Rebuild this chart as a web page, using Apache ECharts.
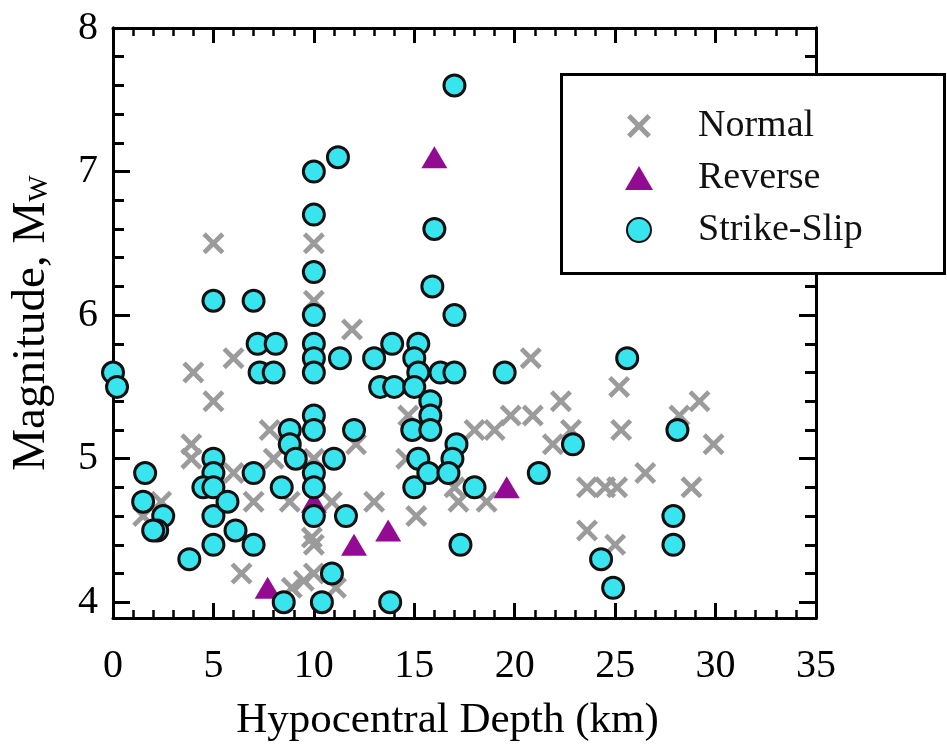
<!DOCTYPE html>
<html>
<head>
<meta charset="utf-8">
<script src="https://cdn.jsdelivr.net/npm/echarts@6/dist/echarts.min.js"></script>
<style>html,body{margin:0;padding:0;background:#fff;}#c{width:947px;height:749px;}</style>
</head>
<body>
<div id="c"></div>
<script>
// ---- data ----
const xTickLabels = [0, 5, 10, 15, 20, 25, 30, 35];
const yTickLabels = [4, 5, 6, 7, 8];
const yMinorTicks = [4.2, 4.4, 4.6, 4.8, 5.2, 5.4, 5.6, 5.8, 6.2, 6.4, 6.6, 6.8, 7.2, 7.4, 7.6, 7.8];
const seriesNames = ['Normal', 'Reverse', 'Strike-Slip'];

const normalPoints = [
  [4.0,5.6],[5.0,6.5],[5.0,5.4],[6.0,5.7],[3.9,5.1],[3.9,5.0],[6.0,4.9],[7.8,5.2],[8.0,5.0],
  [7.0,4.7],[8.8,4.7],[2.4,4.7],[1.5,4.6],[6.4,4.2],[8.9,4.1],[9.5,4.15],[10.0,4.2],[9.9,4.45],
  [10.0,4.4],[11.1,4.1],[10.0,6.5],[10.0,6.1],[10.0,5.0],[10.9,4.7],[11.9,5.9],[12.1,5.1],
  [13.0,4.7],[14.6,5.0],[14.7,5.3],[15.1,4.6],[17.2,4.7],[17.0,4.8],[18.6,4.7],[18.0,5.2],
  [19.0,5.2],[19.8,5.3],[20.9,5.3],[20.8,5.7],[21.9,5.1],[22.3,5.4],[22.8,5.2],[23.6,4.8],
  [24.5,4.8],[25.1,4.8],[26.5,4.9],[28.8,4.8],[23.6,4.5],[25.0,4.4],[25.2,5.5],[25.3,5.2],
  [28.2,5.3],[29.2,5.4],[29.9,5.1]
];
const reversePoints = [
  [7.7,4.1],[10.0,4.7],[12.0,4.4],[13.7,4.5],[16.0,7.1],[19.6,4.8]
];
const strikeSlipPoints = [
  [0.0,5.6],[0.2,5.5],
  [1.6,4.9],[1.5,4.7],[2.5,4.6],[2.2,4.5],[2.0,4.5],
  [3.8,4.3],
  [5.0,6.1],[5.0,5.0],[5.0,4.9],[4.5,4.8],[5.0,4.8],[5.0,4.6],[5.7,4.7],[5.0,4.4],[6.1,4.5],
  [7.0,6.1],[7.2,5.8],[8.1,5.8],[7.3,5.6],[8.0,5.6],
  [7.0,4.9],[7.0,4.4],[8.4,4.8],[8.5,4.0],
  [8.8,5.2],[8.8,5.1],[9.1,5.0],
  [10.0,7.0],[10.0,6.7],[10.0,6.3],[10.0,6.0],[10.0,5.8],[10.0,5.7],[10.0,5.6],[10.0,5.3],
  [10.0,5.2],[10.0,4.9],[10.0,4.8],[10.0,4.6],
  [11.2,7.1],[11.3,5.7],[12.0,5.2],[11.0,5.0],[11.6,4.6],[10.9,4.2],[10.4,4.0],
  [13.0,5.7],[13.9,5.8],[13.3,5.5],[14.0,5.5],[13.8,4.0],
  [15.2,5.8],[15.0,5.7],[15.2,5.6],[15.0,5.5],[14.9,5.2],[15.2,5.0],[15.0,4.8],
  [15.8,5.4],[15.8,5.3],[15.8,5.2],[15.7,4.9],
  [16.0,6.6],[15.9,6.2],[17.0,6.0],[17.0,7.6],
  [16.3,5.6],[17.0,5.6],[17.1,5.1],[16.9,5.0],[16.7,4.9],[18.0,4.8],[17.3,4.4],
  [19.5,5.6],[21.2,4.9],[22.9,5.1],[24.3,4.3],[24.9,4.1],[25.6,5.7],[28.1,5.2],[27.9,4.6],[27.9,4.4]
];

// ---- chart ----
const FONT = '"Liberation Serif", "DejaVu Serif", serif';
const X_PATH = 'path://M0,3 L3,0 L10,7 L17,0 L20,3 L13,10 L20,17 L17,20 L10,13 L3,20 L0,17 L7,10 Z';
const axisLine = {show: true, onZero: false, lineStyle: {color: '#000', width: 3}};
const labelStyle = {color: '#000', fontFamily: FONT, fontSize: 40};

function xAx(pos, showLabel) {
  return {
    type: 'value', position: pos, min: 0, max: 35, interval: 5,
    axisLine: axisLine,
    axisTick: {show: true, inside: true, length: 15, lineStyle: {color: '#000', width: 3}},
    minorTick: {show: true, splitNumber: 5, length: 8, lineStyle: {color: '#000', width: 2.5}},
    splitLine: {show: false},
    axisLabel: showLabel ? Object.assign({margin: 28, customValues: xTickLabels}, labelStyle) : {show: false},
    name: showLabel ? 'Hypocentral Depth (km)' : '',
    nameLocation: 'middle', nameGap: 81,
    nameTextStyle: {color: '#000', fontFamily: FONT, fontSize: 43, padding: [0, 34, 0, 0]}
  };
}
function yAx(pos, ticks, len, showLabel) {
  return {
    type: 'value', position: pos, min: 3.89, max: 8,
    axisLine: axisLine,
    axisTick: {show: true, inside: true, length: len, customValues: ticks, lineStyle: {color: '#000', width: 3}},
    splitLine: {show: false},
    axisLabel: showLabel ? Object.assign({margin: 15, customValues: yTickLabels}, labelStyle) : {show: false},
    name: showLabel ? '{a|Magnitude, M}{b|W}' : '',
    nameLocation: 'middle', nameGap: 58, nameRotate: 90,
    nameTextStyle: {
      color: '#000', fontFamily: FONT, fontSize: 47,
      rich: {
        a: {color: '#000', fontFamily: FONT, fontSize: 47},
        b: {color: '#000', fontFamily: FONT, fontSize: 28, padding: [16, 0, 0, 0]}
      }
    }
  };
}

const chart = echarts.init(document.getElementById('c'), null, {renderer: 'canvas'});
chart.setOption({
  backgroundColor: '#fff',
  animation: false,
  grid: {left: 110, right: 131, top: 28, bottom: 131, containLabel: false},
  xAxis: [xAx('bottom', true), xAx('top', false)],
  yAxis: [
    yAx('left', yTickLabels, 17, true),
    yAx('left', yMinorTicks, 11, false),
    yAx('right', yTickLabels, 17, false),
    yAx('right', yMinorTicks, 11, false)
  ],
  legend: {
    orient: 'vertical', left: 620, top: 100, z: 10,
    itemWidth: 28, itemHeight: 24, itemGap: 10,
    data: seriesNames,
    textStyle: {color: '#111', fontFamily: FONT, fontSize: 38, lineHeight: 42, padding: [0, 0, 0, 40]}
  },
  graphic: [{
    type: 'rect', z: 5, left: 560, top: 73,
    shape: {width: 383, height: 199},
    style: {fill: '#fff', stroke: '#000', lineWidth: 3}
  }],
  series: [
    {
      name: seriesNames[0], type: 'scatter', data: normalPoints,
      symbol: X_PATH, symbolSize: 22,
      itemStyle: {color: '#9b9b9b', opacity: 1}
    },
    {
      name: seriesNames[1], type: 'scatter', data: reversePoints,
      symbol: 'triangle', symbolSize: [26, 22],
      itemStyle: {color: '#930a93', opacity: 1}
    },
    {
      name: seriesNames[2], type: 'scatter', data: strikeSlipPoints,
      symbol: 'circle', symbolSize: 21,
      itemStyle: {color: '#38e4ee', borderColor: '#111', borderWidth: 3, opacity: 1}
    }
  ]
});
</script>
</body>
</html>
